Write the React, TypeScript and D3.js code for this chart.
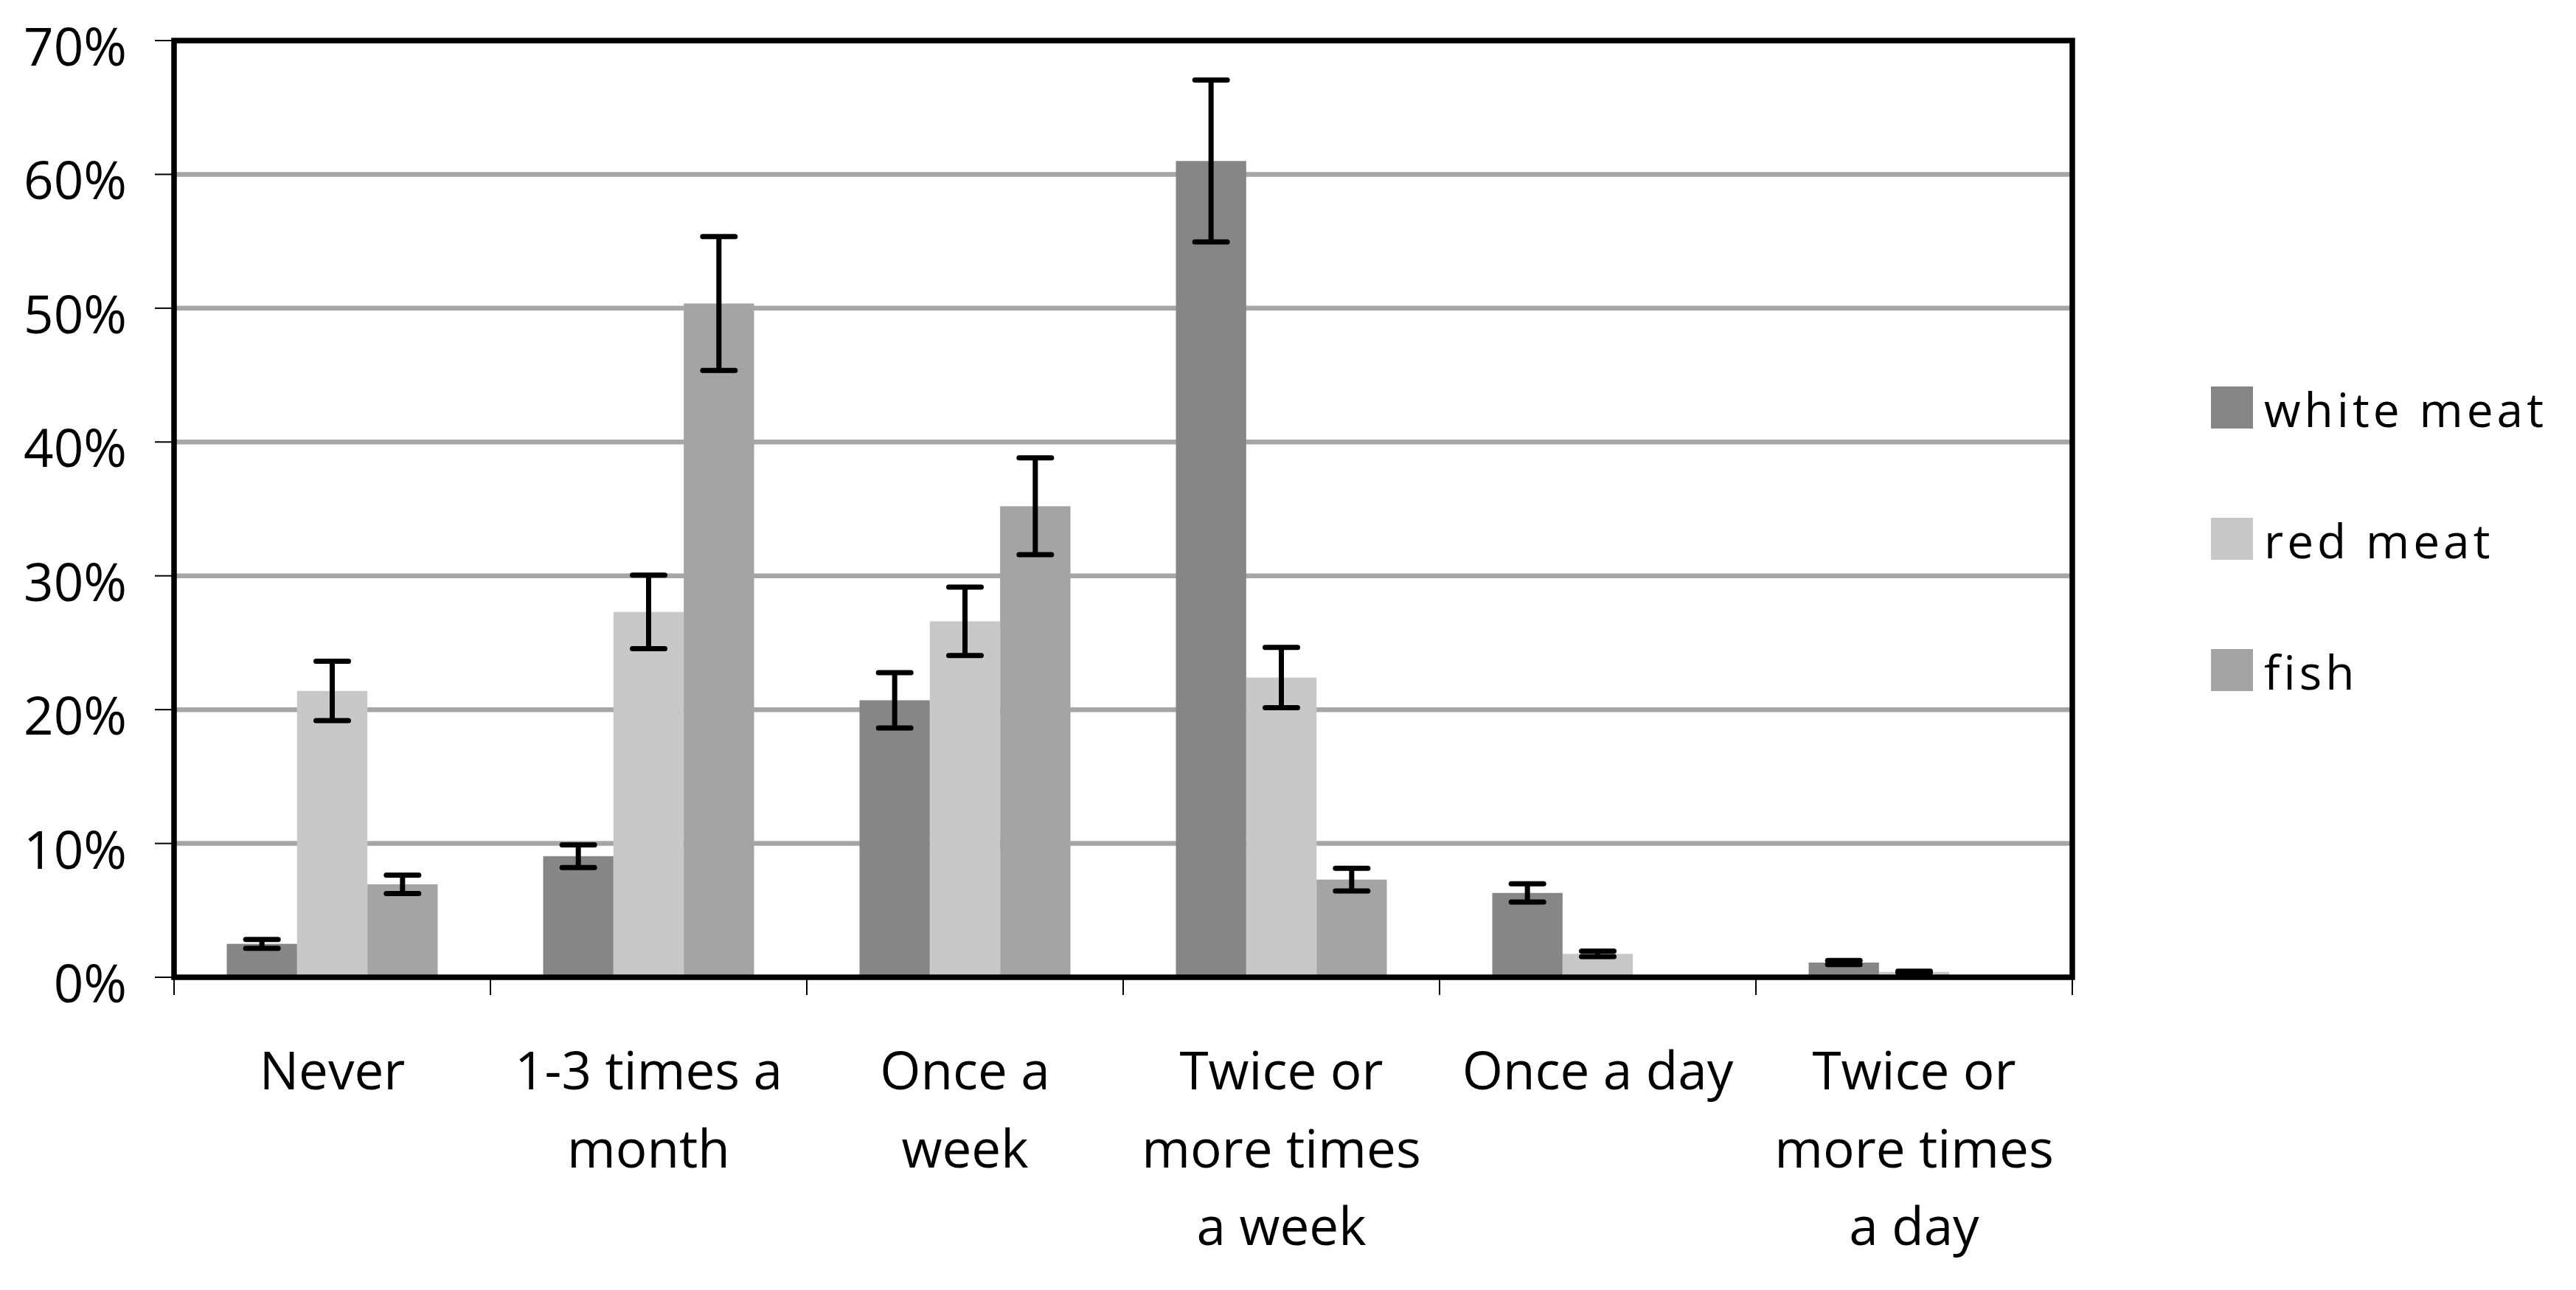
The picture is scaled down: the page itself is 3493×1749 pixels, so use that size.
import React from "react";
import * as d3 from "d3";

const categories: string[][] = [
  ["Never"],
  ["1-3 times a", "month"],
  ["Once a", "week"],
  ["Twice or", "more times", "a week"],
  ["Once a day"],
  ["Twice or", "more times", "a day"],
];
const seriesNames = ["white meat", "red meat", "fish"];
const whiteMeat = [2.5, 9.05, 20.7, 61.0, 6.3, 1.1];
const whiteMeatErr = [0.33, 0.85, 2.07, 6.05, 0.68, 0.15];
const redMeat = [21.4, 27.3, 26.6, 22.4, 1.75, 0.4];
const redMeatErr = [2.22, 2.75, 2.56, 2.25, 0.2, 0.05];
const fish = [6.95, 50.35, 35.2, 7.3, 0, 0];
const fishErr = [0.69, 5.0, 3.62, 0.85, 0, 0];
const yTicks = [0, 10, 20, 30, 40, 50, 60, 70];
const colors = ["#868686", "#c8c8c8", "#a4a4a4"];

const W = 3493;
const H = 1749;
const left = 236;
const right = 2810;
const top = 55;
const bottom = 1325;
const FONT = "'Open Sans', 'Noto Sans', sans-serif";

export default function App() {
  const values = [whiteMeat, redMeat, fish];
  const errs = [whiteMeatErr, redMeatErr, fishErr];
  const idx = categories.map((_, i) => i);
  const x0 = d3.scaleBand<number>().domain(idx).range([left, right]).paddingInner(0).paddingOuter(0);
  const x1 = d3
    .scaleBand<number>()
    .domain([0, 1, 2])
    .range([0, x0.bandwidth()])
    .paddingInner(0)
    .paddingOuter(0.75);
  const y = d3.scaleLinear().domain([0, 70]).range([bottom, top]);
  const bw = x1.bandwidth();
  const capHalf = 22;

  const boundaries = d3.range(categories.length + 1).map((i) => left + i * x0.step());

  return (
    <svg
      width={W}
      height={H}
      viewBox={`0 0 ${W} ${H}`}
      style={{ position: "absolute", left: 0, top: 0, background: "#fff" }}
    >
      <rect x={0} y={0} width={W} height={H} fill="#fff" />
      {yTicks
        .filter((t) => t > 0 && t < 70)
        .map((t) => (
          <line key={"g" + t} x1={left} x2={right} y1={y(t)} y2={y(t)} stroke="#a6a6a6" strokeWidth={6.5} />
        ))}
      {values.map((vals, s) =>
        vals.map((v, i) =>
          v > 0 ? (
            <rect
              key={`b${s}-${i}`}
              x={(x0(i) as number) + (x1(s) as number)}
              y={y(v)}
              width={bw}
              height={bottom - y(v)}
              fill={colors[s]}
            />
          ) : null
        )
      )}
      {values.map((vals, s) =>
        vals.map((v, i) => {
          if (v <= 0) return null;
          const cx = (x0(i) as number) + (x1(s) as number) + bw / 2;
          const e = errs[s][i];
          const yt = y(v + e);
          const yb = y(v - e);
          return (
            <g key={`e${s}-${i}`} stroke="#000" strokeWidth={7}>
              <line x1={cx} x2={cx} y1={yt} y2={yb} />
              <line x1={cx - capHalf} x2={cx + capHalf} y1={yt} y2={yt} strokeLinecap="round" />
              <line x1={cx - capHalf} x2={cx + capHalf} y1={yb} y2={yb} strokeLinecap="round" />
            </g>
          );
        })
      )}
      <rect x={left} y={top} width={right - left} height={bottom - top} fill="none" stroke="#000" strokeWidth={7.5} />
      {yTicks.map((t) => (
        <g key={"y" + t}>
          <line x1={210} x2={left} y1={y(t)} y2={y(t)} stroke="#000" strokeWidth={2} />
          <text x={172} y={y(t) + 34} textAnchor="end" fontFamily={FONT} fontSize={71} fill="#000">
            {t + "%"}
          </text>
        </g>
      ))}
      {boundaries.map((b, i) => (
        <line key={"xt" + i} x1={b} x2={b} y1={bottom} y2={bottom + 24} stroke="#000" strokeWidth={2} />
      ))}
      {categories.map((lines, i) => (
        <text key={"c" + i} textAnchor="middle" fontFamily={FONT} fontSize={71} fill="#000">
          {lines.map((ln, k) => (
            <tspan key={k} x={(x0(i) as number) + x0.bandwidth() / 2} y={1477 + k * 105.6}>
              {ln}
            </tspan>
          ))}
        </text>
      ))}
      {seriesNames.map((n, s) => {
        const ly = 524 + s * 178;
        return (
          <g key={"l" + s}>
            <rect x={2998} y={ly} width={57} height={57} fill={colors[s]} />
            <text x={3070} y={ly + 55} fontFamily={FONT} fontSize={64} letterSpacing={5} fill="#000">
              {n}
            </text>
          </g>
        );
      })}
    </svg>
  );
}
